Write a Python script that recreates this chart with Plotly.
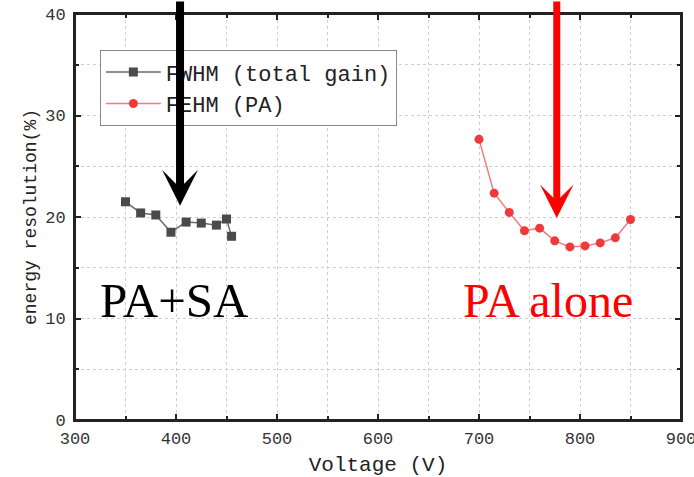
import plotly.graph_objects as go

# Data
v_total = [350, 365, 380, 395, 410, 425, 440, 450, 455]
res_total = [21.5, 20.4, 20.2, 18.5, 19.5, 19.4, 19.2, 19.8, 18.1]
v_pa = [700, 715, 730, 745, 760, 775, 790, 805, 820, 835, 850]
res_pa = [27.65, 22.35, 20.45, 18.65, 18.9, 17.65, 17.05, 17.15, 17.45, 17.95, 19.75]

name_total = "FWHM (total gain)"
name_pa = "FEHM (PA)"

fig = go.Figure()
fig.add_trace(go.Scatter(
    x=v_total, y=res_total, name=name_total, mode="lines+markers",
    line=dict(color="#6a6a6a", width=1.5),
    marker=dict(symbol="square", size=9, color="#4a4a4a"),
))
fig.add_trace(go.Scatter(
    x=v_pa, y=res_pa, name=name_pa, mode="lines+markers",
    line=dict(color="#f27b7b", width=1.5),
    marker=dict(symbol="circle", size=9, color="#ee3a3a"),
))

mono = "Liberation Mono"
axis_common = dict(
    showline=True, linecolor="#222", linewidth=2, mirror="allticks",
    ticks="inside", ticklen=6, tickwidth=1.5, tickcolor="#222",
    showgrid=True, gridcolor="#cfcfcf", griddash="dot", gridwidth=1,
    zeroline=False, ticklabeloverflow="allow", automargin=False,
    tickfont=dict(family=mono, size=17, color="#333"),
)

fig.update_xaxes(
    range=[300, 900], dtick=100, tick0=300, ticklabelstandoff=2,
    minor=dict(dtick=50, ticks="inside", ticklen=4, tickcolor="#222",
               showgrid=True, gridcolor="#cfcfcf", griddash="dot"),
    title=dict(text="Voltage (V)", font=dict(family=mono, size=21, color="#222")),
    **axis_common,
)
fig.update_yaxes(
    range=[0, 40], dtick=10, tick0=0, ticklabelstandoff=4,
    minor=dict(dtick=5, ticks="inside", ticklen=4, tickcolor="#222",
               showgrid=True, gridcolor="#cfcfcf", griddash="dot"),
    title=dict(text="energy resolution(%)", font=dict(family=mono, size=18, color="#222"),
               standoff=4),
    **axis_common,
)

# frame around the plot area
fig.add_shape(type="rect", xref="paper", yref="paper", x0=0, x1=1, y0=0, y1=1,
              line=dict(color="#222", width=2), layer="above")

fig.add_annotation(x=404, y=21.1, xref="x", yref="y", ax=0, ay=-206,
                   showarrow=True, arrowhead=3, arrowsize=0.75, arrowwidth=8,
                   arrowcolor="black", text="")
fig.add_annotation(x=777, y=19.9, xref="x", yref="y", ax=0, ay=-218,
                   showarrow=True, arrowhead=3, arrowsize=0.8, arrowwidth=7,
                   arrowcolor="red", text="")

fig.add_annotation(x=398.5, y=11.8, xref="x", yref="y", text="PA+SA", showarrow=False,
                   font=dict(family="Liberation Serif", size=49, color="black"))
fig.add_annotation(x=768, y=11.8, xref="x", yref="y", text="PA alone", showarrow=False,
                   font=dict(family="Liberation Serif", size=48, color="red"))

fig.update_layout(
    width=694, height=477,
    margin=dict(l=75, r=13, t=14, b=57),
    paper_bgcolor="white", plot_bgcolor="white",
    showlegend=True,
    legend=dict(x=0.041, y=0.911, xanchor="left", yanchor="top",
                bgcolor="white", bordercolor="#888", borderwidth=1,
                font=dict(family=mono, size=22, color="#222"),
                tracegroupgap=0, itemwidth=55),
)

fig.write_html("out.html")
